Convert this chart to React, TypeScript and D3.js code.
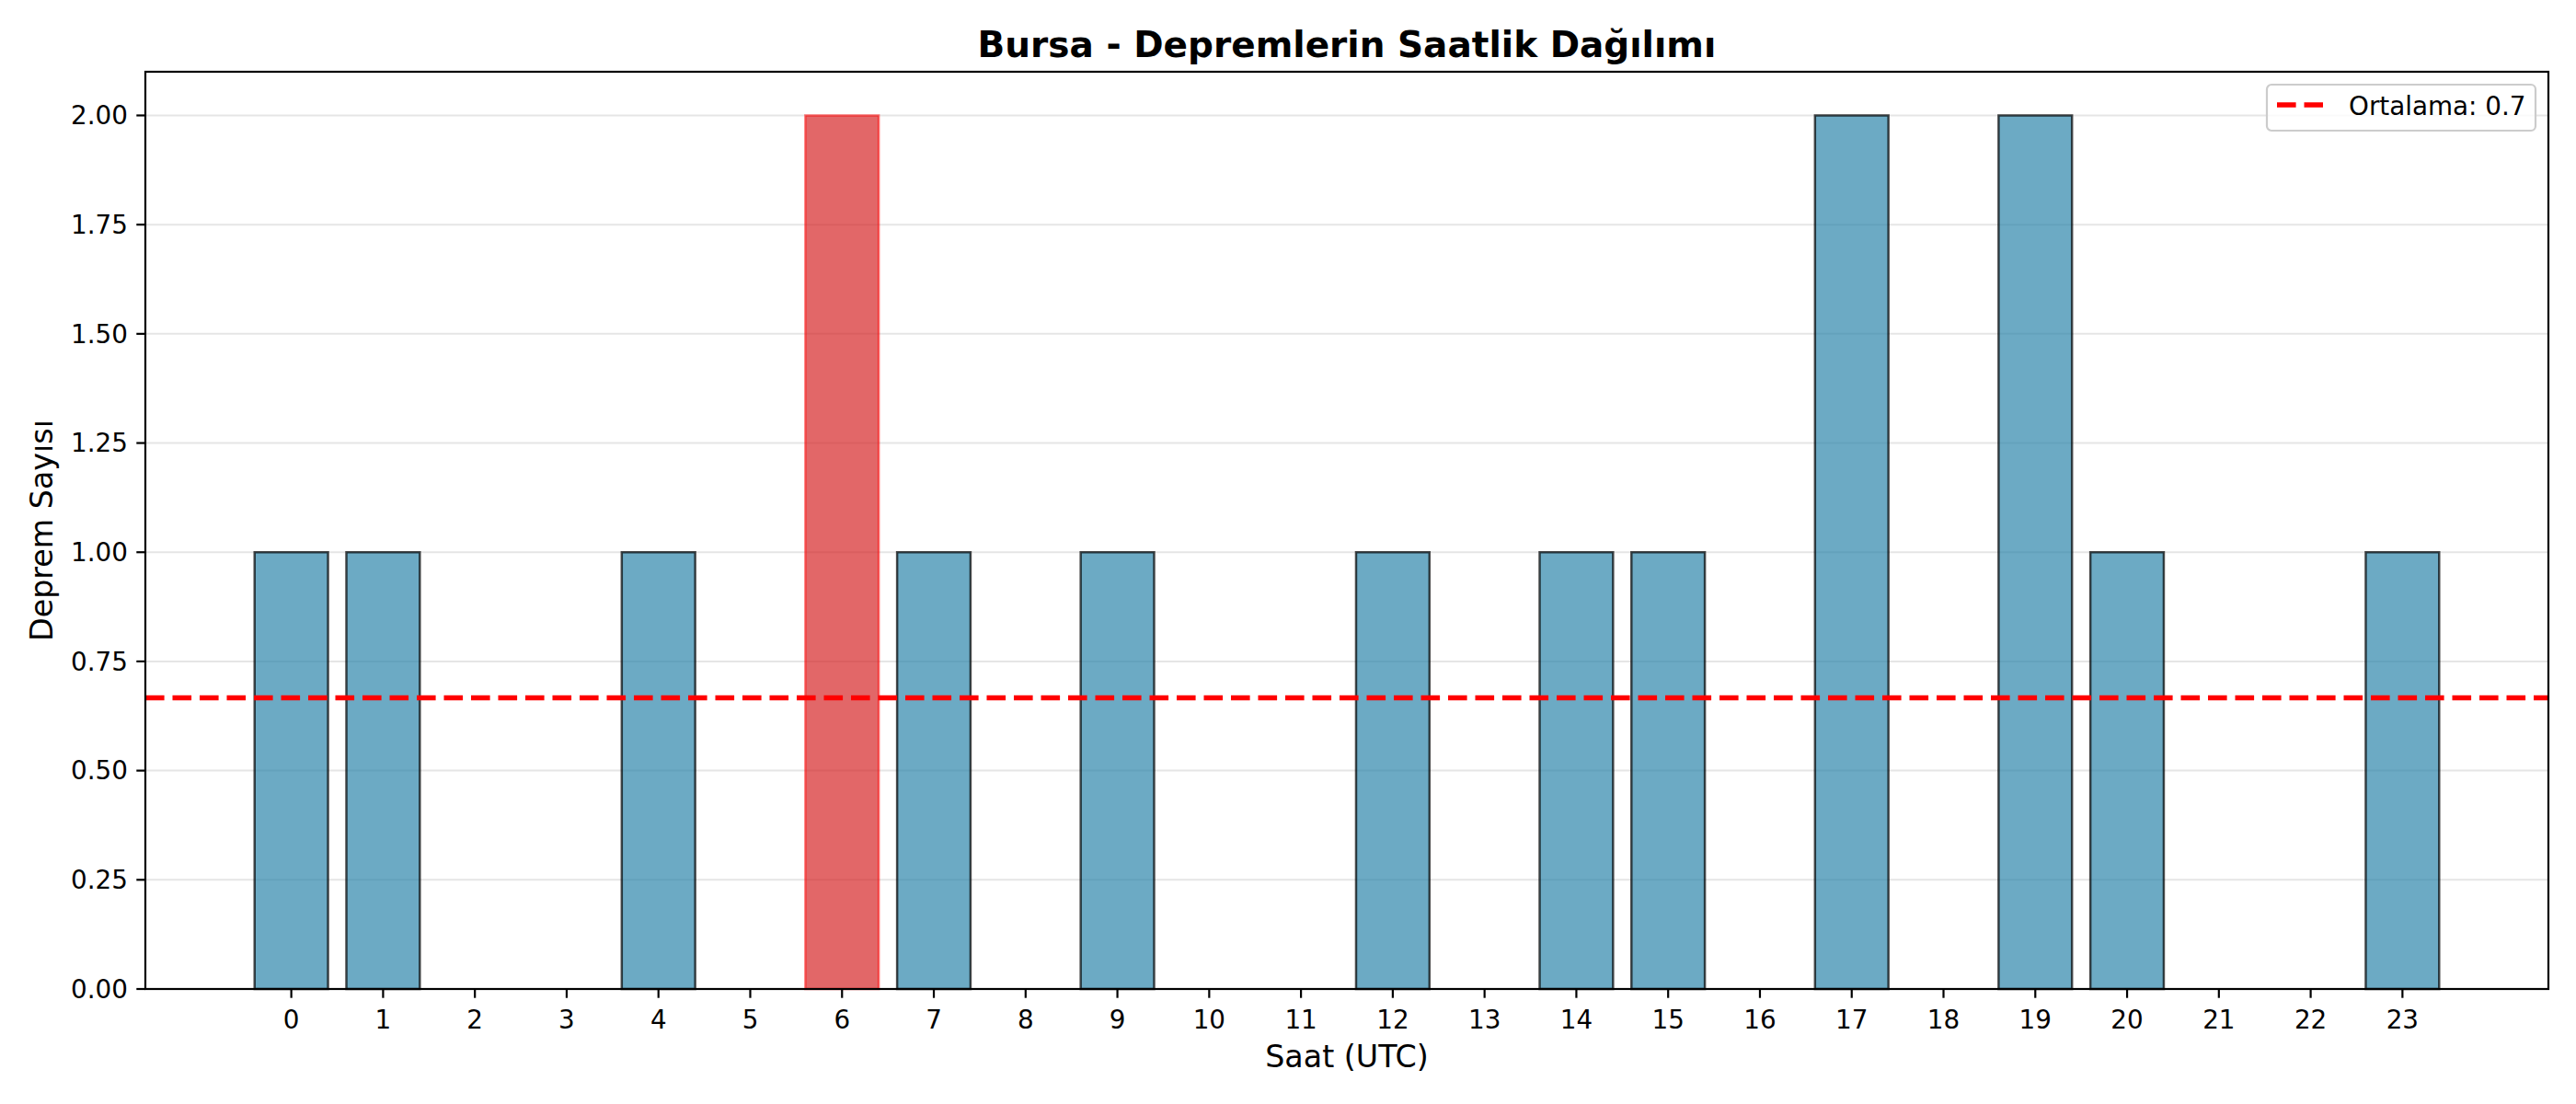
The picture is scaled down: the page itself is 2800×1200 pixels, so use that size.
import React from 'react';
import * as d3 from 'd3';

const hours = d3.range(0, 24);
const counts = [1, 1, 0, 0, 1, 0, 2, 1, 0, 1, 0, 0, 1, 0, 1, 1, 0, 2, 0, 2, 1, 0, 0, 1];
const peakHour = 6;
const yTicks = [0, 0.25, 0.5, 0.75, 1.0, 1.25, 1.5, 1.75, 2.0];

const W = 2800;
const H = 1200;
const margin = { top: 78, right: 30, bottom: 125, left: 158 };
const font = 'DejaVu Sans, sans-serif';

export default function App() {
  const iw = W - margin.left - margin.right;
  const ih = H - margin.top - margin.bottom;

  // matplotlib-style 5% margins around the bars (-0.4 .. 23.4)
  const lo = -0.4, hi = 23.4, pad = (hi - lo) * 0.05;
  const x = d3.scaleLinear().domain([lo - pad, hi + pad]).range([0, iw]);
  const y = d3.scaleLinear().domain([0, 2.1]).range([ih, 0]);

  const mean = d3.mean(counts) ?? 0;
  const barW = x(0.8) - x(0);
  const fmt = d3.format('.2f');

  return (
    <svg width={W} height={H} style={{ position: 'absolute', left: 0, top: 0, background: '#fff' }}>
      <text x={margin.left + iw / 2} y={62} textAnchor="middle" fontFamily={font} fontWeight="bold" fontSize={39}>
        Bursa - Depremlerin Saatlik Dağılımı
      </text>
      <g transform={`translate(${margin.left},${margin.top})`}>
        {yTicks.map(t => (
          <line key={'g' + t} x1={0} x2={iw} y1={y(t)} y2={y(t)} stroke="#000" strokeOpacity={0.1} strokeWidth={2} />
        ))}
        {counts.map((c, i) =>
          c > 0 ? (
            <rect
              key={i}
              x={x(hours[i]) - barW / 2}
              y={y(c)}
              width={barW}
              height={y(0) - y(c)}
              fill={i === peakHour ? '#d62728' : '#2E86AB'}
              fillOpacity={0.7}
              stroke={i === peakHour ? '#ff0000' : '#000'}
              strokeOpacity={i === peakHour ? 0.5 : 0.7}
              strokeWidth={2.5}
            />
          ) : null
        )}
        <line x1={0} x2={iw} y1={y(mean)} y2={y(mean)} stroke="red" strokeWidth={5.5} strokeDasharray="20.6,8.9" />
        <rect x={0} y={0} width={iw} height={ih} fill="none" stroke="#000" strokeWidth={2.2} />
        {yTicks.map(t => (
          <g key={'y' + t} transform={`translate(0,${y(t)})`}>
            <line x1={-9.7} x2={0} stroke="#000" strokeWidth={2.2} />
            <text x={-19} dy="0.35em" textAnchor="end" fontFamily={font} fontSize={27.8}>
              {fmt(t)}
            </text>
          </g>
        ))}
        {hours.map(h => (
          <g key={'x' + h} transform={`translate(${x(h)},${ih})`}>
            <line y1={0} y2={9.7} stroke="#000" strokeWidth={2.2} />
            <text y={43} textAnchor="middle" fontFamily={font} fontSize={27.8}>
              {h}
            </text>
          </g>
        ))}
        <text x={iw / 2} y={ih + 85} textAnchor="middle" fontFamily={font} fontSize={33.3}>
          Saat (UTC)
        </text>
        <text transform={`translate(${45 - margin.left},${ih / 2}) rotate(-90)`} dy="0.35em" textAnchor="middle" fontFamily={font} fontSize={33.3}>
          Deprem Sayısı
        </text>
        <g transform={`translate(${2464 - margin.left},${92 - margin.top})`}>
          <rect x={0} y={0} width={292} height={50} rx={5} fill="#fff" fillOpacity={0.8} stroke="#ccc" strokeWidth={2.2} />
          <line x1={11} x2={61} y1={22} y2={22} stroke="red" strokeWidth={5.5} strokeDasharray="20.6,8.9" />
          <text x={89} y={33} fontFamily={font} fontSize={27.8}>
            {`Ortalama: ${mean.toFixed(1)}`}
          </text>
        </g>
      </g>
    </svg>
  );
}
